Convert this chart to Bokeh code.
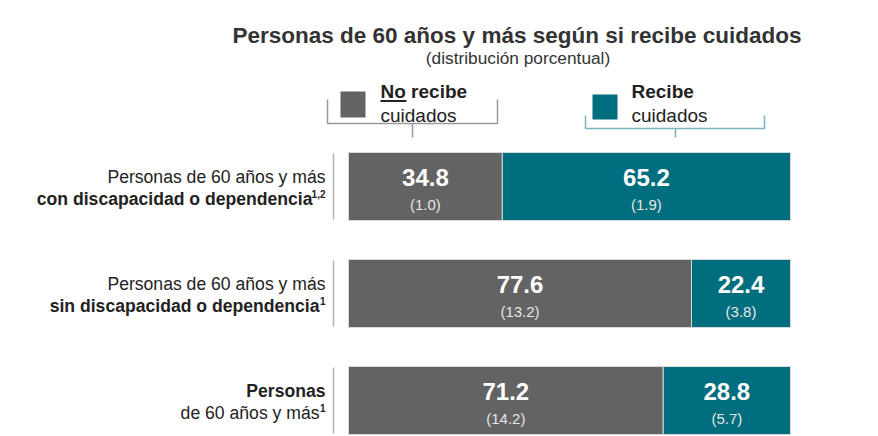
from bokeh.plotting import figure
from bokeh.models import Range1d, ColumnDataSource
from bokeh.core.properties import value
from bokeh.embed import file_html
from bokeh.resources import INLINE

# ---- data ----
groups = ["con discapacidad o dependencia", "sin discapacidad o dependencia", "total"]
no_recibe = [34.8, 77.6, 71.2]
recibe = [65.2, 22.4, 28.8]
no_recibe_err = ["(1.0)", "(13.2)", "(14.2)"]
recibe_err = ["(1.9)", "(3.8)", "(5.7)"]
label_line1 = ["Personas de 60 años y más", "Personas de 60 años y más", "Personas"]
label_line1_bold = [False, False, True]
label_line2 = ["con discapacidad o dependencia", "sin discapacidad o dependencia", "de 60 años y más"]
label_line2_bold = [True, True, False]
label_sup = ["1,2", "1", "1"]
title = "Personas de 60 años y más según si recibe cuidados"
subtitle = "(distribución porcentual)"

# ---- styles ----
W, H = 878, 436
GRAY = "#636363"
TEAL = "#006e7e"
TXT = "#222222"
FONT = "Liberation Sans"
X0, PXU = 348.0, 4.42      # pixel of 0 %, pixels per percent
Y0, PXR = 186.0, 107.0     # pixel of first row centre, pixels per row
BAR_H = 68.0 / PXR

def X(px):
    return (px - X0) / PXU

def Y(py):
    return (py - Y0) / PXR

p = figure(width=W, height=H, output_backend="svg", toolbar_location=None,
           x_range=Range1d(X(0), X(W)), y_range=Range1d(Y(H), Y(0)),
           min_border=0, outline_line_color=None)
p.axis.visible = False
p.grid.visible = False
p.background_fill_color = "white"
p.border_fill_color = "white"

rows = list(range(len(groups)))
src = ColumnDataSource(dict(y=rows, zero=[0] * len(rows), nr=no_recibe,
                            l2=no_recibe,
                            r2=[a + b for a, b in zip(no_recibe, recibe)],
                            nrc=[a / 2 for a in no_recibe],
                            rc=[a + b / 2 for a, b in zip(no_recibe, recibe)],
                            nrt=[f"{v:.1f}" for v in no_recibe],
                            rt=[f"{v:.1f}" for v in recibe],
                            nre=no_recibe_err, re=recibe_err))

p.hbar(y="y", left="zero", right="nr", height=BAR_H, source=src,
       fill_color=GRAY, line_color="#d9d9d9", line_width=1)
p.hbar(y="y", left="l2", right="r2", height=BAR_H, source=src,
       fill_color=TEAL, line_color="#d9d9d9", line_width=1)

# values
off_v = -9.0 / PXR
off_e = 18.0 / PXR
for cx, tcol, ecol in (("nrc", "nrt", "nre"), ("rc", "rt", "re")):
    vs = ColumnDataSource(dict(x=src.data[cx], yv=[r + off_v for r in rows],
                               ye=[r + off_e for r in rows],
                               t=src.data[tcol], e=src.data[ecol]))
    p.text(x="x", y="yv", text="t", source=vs, text_align="center", text_baseline="middle",
           text_font=value(FONT), text_font_style="bold", text_font_size="24px",
           text_color="white")
    p.text(x="x", y="ye", text="e", source=vs, text_align="center", text_baseline="middle",
           text_font=value(FONT), text_font_size="15px", text_color="#e6e6e6")

# thin separator lines left of bars
p.segment(x0=[X(333)] * 3, x1=[X(333)] * 3,
          y0=[r - 33.0 / PXR for r in rows], y1=[r + 33.0 / PXR for r in rows],
          line_color="#b3b3b3", line_width=1.5)

# category labels
RX = X(325)
l1_off = -10.0 / PXR
l2_off = 12.0 / PXR
sup_w = {"1,2": 13, "1": 6}
for i in rows:
    p.text(x=[RX], y=[i + l1_off], text=[label_line1[i]], text_align="right",
           text_baseline="middle", text_font=value(FONT), text_font_size="17.6px",
           text_font_style="bold" if label_line1_bold[i] else "normal", text_color=TXT)
    sw = sup_w[label_sup[i]]
    p.text(x=[X(325 - sw)], y=[i + l2_off], text=[label_line2[i]], text_align="right",
           text_baseline="middle", text_font=value(FONT), text_font_size="17.6px",
           text_font_style="bold" if label_line2_bold[i] else "normal", text_color=TXT)
    p.text(x=[RX], y=[i + l2_off - 5.0 / PXR], text=[label_sup[i]], text_align="right",
           text_baseline="middle", text_font=value(FONT), text_font_size="10px",
           text_font_style="bold", text_color=TXT)

# title
p.text(x=[X(516.5)], y=[Y(35)], text=[title], text_align="center", text_baseline="middle",
       text_font=value(FONT), text_font_style="bold", text_font_size="22.5px", text_color="#333333")
p.text(x=[X(517.5)], y=[Y(57)], text=[subtitle], text_align="center", text_baseline="middle",
       text_font=value(FONT), text_font_size="17.3px", text_color="#333333")

# legend: squares
p.quad(left=[X(340), X(592)], right=[X(365), X(617)], top=[Y(91), Y(94)], bottom=[Y(117), Y(119)],
       fill_color=[GRAY, TEAL], line_color=None)
# legend texts
p.text(x=[X(380)], y=[Y(91)], text=["No recibe"], text_align="left", text_baseline="middle",
       text_font=value(FONT), text_font_style="bold", text_font_size="19px", text_color=TXT)
p.segment(x0=[X(380)], x1=[X(406)], y0=[Y(100.5)], y1=[Y(100.5)], line_color=TXT, line_width=2)
p.text(x=[X(380)], y=[Y(115)], text=["cuidados"], text_align="left", text_baseline="middle",
       text_font=value(FONT), text_font_size="19px", text_color=TXT)
p.text(x=[X(631)], y=[Y(91)], text=["Recibe"], text_align="left", text_baseline="middle",
       text_font=value(FONT), text_font_style="bold", text_font_size="19px", text_color=TXT)
p.text(x=[X(631)], y=[Y(115)], text=["cuidados"], text_align="left", text_baseline="middle",
       text_font=value(FONT), text_font_size="19px", text_color=TXT)

# brackets
p.multi_line(xs=[[X(327), X(327), X(497), X(497)], [X(412), X(412)]],
             ys=[[Y(99), Y(123), Y(123), Y(99)], [Y(123), Y(137)]],
             line_color="#9a9a9a", line_width=1.5)
p.multi_line(xs=[[X(585), X(585), X(764), X(764)], [X(675), X(675)]],
             ys=[[Y(115), Y(128), Y(128), Y(115)], [Y(128), Y(137)]],
             line_color="#7ab3bf", line_width=1.5)

open("out.html", "w").write(file_html(p, INLINE))
